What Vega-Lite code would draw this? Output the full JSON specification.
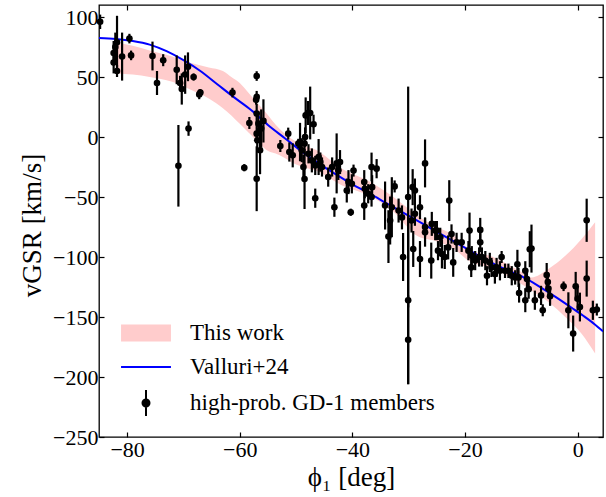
{
  "$schema": "https://vega.github.io/schema/vega-lite/v6.json",
  "autosize": {"type": "none"},
  "padding": {"left": 99, "top": 5, "right": 3, "bottom": 60},
  "width": 504,
  "height": 432,
  "background": "white",
  "config": {
    "view": {"stroke": "black", "strokeWidth": 1.3},
    "axis": {
      "grid": false, "domain": false,
      "tickColor": "black", "tickWidth": 1.2, "tickSize": -5,
      "labelFont": "Liberation Serif", "labelFontSize": 22, "labelColor": "black",
      "titleFont": "Liberation Serif", "titleFontSize": 27, "titleColor": "black", "titleFontWeight": "normal"
    },
    "legend": {
      "labelFont": "Liberation Serif", "labelFontSize": 23, "labelColor": "black", "labelLimit": 0
    }
  },
  "datasets": {
    "band": [
      {"phi": -82, "lo": 53, "hi": 79},
      {"phi": -79, "lo": 52, "hi": 76},
      {"phi": -76, "lo": 50, "hi": 72},
      {"phi": -72, "lo": 46, "hi": 67},
      {"phi": -69, "lo": 40, "hi": 62},
      {"phi": -65.5, "lo": 32, "hi": 58},
      {"phi": -63, "lo": 24, "hi": 55},
      {"phi": -61.5, "lo": 18, "hi": 50},
      {"phi": -60, "lo": 11, "hi": 45},
      {"phi": -58.5, "lo": 4, "hi": 37},
      {"phi": -57, "lo": -3, "hi": 29},
      {"phi": -55.5, "lo": -10, "hi": 21},
      {"phi": -53, "lo": -15, "hi": 7},
      {"phi": -50, "lo": -23, "hi": -4},
      {"phi": -46, "lo": -29, "hi": -12},
      {"phi": -42, "lo": -40, "hi": -26},
      {"phi": -37, "lo": -49, "hi": -37},
      {"phi": -33, "lo": -61, "hi": -49},
      {"phi": -28.3, "lo": -83, "hi": -66},
      {"phi": -25, "lo": -87, "hi": -75},
      {"phi": -22, "lo": -93, "hi": -82},
      {"phi": -19.4, "lo": -103, "hi": -93},
      {"phi": -15, "lo": -110, "hi": -100},
      {"phi": -10.5, "lo": -121, "hi": -111},
      {"phi": -8.2, "lo": -128, "hi": -117},
      {"phi": -5.2, "lo": -137.5, "hi": -110},
      {"phi": -2.2, "lo": -150, "hi": -99},
      {"phi": 0.7, "lo": -164, "hi": -85},
      {"phi": 3.1, "lo": -180.5, "hi": -71}
    ],
    "curve": [
      {"phi": -85, "v": 82.5},
      {"phi": -82, "v": 81.7},
      {"phi": -79, "v": 80},
      {"phi": -76, "v": 77},
      {"phi": -73, "v": 71.5},
      {"phi": -70, "v": 64},
      {"phi": -67, "v": 55},
      {"phi": -64, "v": 44},
      {"phi": -61, "v": 33},
      {"phi": -58, "v": 22.5},
      {"phi": -55, "v": 10},
      {"phi": -52, "v": -1},
      {"phi": -49, "v": -12},
      {"phi": -46, "v": -22},
      {"phi": -43, "v": -31},
      {"phi": -40, "v": -39.5},
      {"phi": -37, "v": -47},
      {"phi": -34, "v": -55},
      {"phi": -31, "v": -63},
      {"phi": -28, "v": -71},
      {"phi": -25, "v": -79},
      {"phi": -22, "v": -87},
      {"phi": -19, "v": -95},
      {"phi": -16, "v": -103},
      {"phi": -13, "v": -110},
      {"phi": -10, "v": -116},
      {"phi": -7, "v": -124},
      {"phi": -4, "v": -133},
      {"phi": -1, "v": -142.5},
      {"phi": 1, "v": -149},
      {"phi": 3, "v": -156},
      {"phi": 4.5, "v": -162}
    ],
    "stars": [
      {"phi": -84.8, "v": 96, "err": 6},
      {"phi": -81.8, "v": 79, "err": 22},
      {"phi": -82.1, "v": 75, "err": 12},
      {"phi": -82.4, "v": 70, "err": 10},
      {"phi": -82.4, "v": 62, "err": 9},
      {"phi": -81.8, "v": 55, "err": 5},
      {"phi": -80.9, "v": 67, "err": 20},
      {"phi": -79.6, "v": 82, "err": 4},
      {"phi": -79.3, "v": 68, "err": 4},
      {"phi": -75.5, "v": 67.5, "err": 12},
      {"phi": -74.7, "v": 45, "err": 10},
      {"phi": -73.6, "v": 64, "err": 5},
      {"phi": -71.2, "v": 56, "err": 12},
      {"phi": -70.9, "v": -24, "err": 34},
      {"phi": -70.6, "v": 45, "err": 6},
      {"phi": -70.3, "v": 40, "err": 13},
      {"phi": -69.7, "v": 52, "err": 16},
      {"phi": -69.2, "v": 58.5, "err": 12},
      {"phi": -69.1, "v": 7, "err": 6},
      {"phi": -68.2, "v": 50, "err": 3},
      {"phi": -67.2, "v": 35.5, "err": 4},
      {"phi": -67.0, "v": 37, "err": 3},
      {"phi": -61.3, "v": 37, "err": 4},
      {"phi": -59.2, "v": -25.6, "err": 3},
      {"phi": -58.3, "v": 11.7, "err": 5},
      {"phi": -57.0, "v": 50.8, "err": 4},
      {"phi": -57.0, "v": 33.4, "err": 5},
      {"phi": -57.1, "v": 31, "err": 4},
      {"phi": -57.0, "v": 19.6, "err": 8},
      {"phi": -56.7, "v": 11.2, "err": 10},
      {"phi": -57.0, "v": 2.8, "err": 8},
      {"phi": -56.9, "v": -2.8, "err": 10},
      {"phi": -57.0, "v": -34.8, "err": 27},
      {"phi": -56.4, "v": -11, "err": 20},
      {"phi": -56.2, "v": 7, "err": 16},
      {"phi": -55.8, "v": 13.4, "err": 18},
      {"phi": -52.8, "v": -7.5, "err": 5},
      {"phi": -51.4, "v": 2.8, "err": 5},
      {"phi": -51.2, "v": -12.5, "err": 8},
      {"phi": -50.6, "v": -15.3, "err": 10},
      {"phi": -49.6, "v": -5.5, "err": 4},
      {"phi": -49.3, "v": -4.2, "err": 16},
      {"phi": -49.0, "v": -11, "err": 10},
      {"phi": -48.7, "v": -25, "err": 10},
      {"phi": -48.5, "v": -35, "err": 25},
      {"phi": -48.3, "v": 18, "err": 15},
      {"phi": -47.9, "v": 20, "err": 10},
      {"phi": -47.5, "v": 20, "err": 22},
      {"phi": -46.9, "v": 10.6, "err": 8},
      {"phi": -48.4, "v": 0, "err": 8},
      {"phi": -48.5, "v": -5.5, "err": 8},
      {"phi": -47.8, "v": -14, "err": 8},
      {"phi": -47.2, "v": -19.5, "err": 10},
      {"phi": -46.6, "v": -23.7, "err": 8},
      {"phi": -46.0, "v": -16.7, "err": 15},
      {"phi": -45.7, "v": -20.9, "err": 8},
      {"phi": -45.4, "v": -25, "err": 8},
      {"phi": -46.6, "v": -51, "err": 8},
      {"phi": -43.2, "v": -58.5, "err": 8},
      {"phi": -42.2, "v": -20.9, "err": 10},
      {"phi": -42.8, "v": -22, "err": 25},
      {"phi": -44.3, "v": -33.4, "err": 8},
      {"phi": -42.5, "v": -27.8, "err": 8},
      {"phi": -43.6, "v": -25, "err": 8},
      {"phi": -39.8, "v": -28, "err": 5},
      {"phi": -40.7, "v": -37.6, "err": 10},
      {"phi": -41.0, "v": -44.6, "err": 10},
      {"phi": -40.1, "v": -39, "err": 8},
      {"phi": -40.3, "v": -62.7, "err": 3},
      {"phi": -37.9, "v": -37.6, "err": 10},
      {"phi": -37.8, "v": -43.1, "err": 8},
      {"phi": -37.9, "v": -57.1, "err": 12},
      {"phi": -36.6, "v": -25, "err": 12},
      {"phi": -35.7, "v": -26.4, "err": 8},
      {"phi": -36.5, "v": -41.8, "err": 10},
      {"phi": -36.6, "v": -50, "err": 8},
      {"phi": -37.2, "v": -47.3, "err": 8},
      {"phi": -32.5, "v": -41.2, "err": 5},
      {"phi": -34.2, "v": -57.1, "err": 20},
      {"phi": -33.0, "v": -58.5, "err": 25},
      {"phi": -33.3, "v": -69.6, "err": 20},
      {"phi": -33.6, "v": -83, "err": 22},
      {"phi": -31.2, "v": -67, "err": 10},
      {"phi": -31.0, "v": -100, "err": 20},
      {"phi": -31.8, "v": -61.3, "err": 10},
      {"phi": -30.1, "v": -50, "err": 92},
      {"phi": -30.1, "v": -136, "err": 70},
      {"phi": -30.1, "v": -169, "err": 37},
      {"phi": -27.1, "v": -22, "err": 20},
      {"phi": -29.3, "v": -41.8, "err": 15},
      {"phi": -28.9, "v": -44.6, "err": 10},
      {"phi": -28.0, "v": -58.5, "err": 10},
      {"phi": -28.9, "v": -64, "err": 10},
      {"phi": -27.1, "v": -79.4, "err": 12},
      {"phi": -29.5, "v": -69.6, "err": 10},
      {"phi": -29.2, "v": -93.3, "err": 15},
      {"phi": -28.0, "v": -101.7, "err": 15},
      {"phi": -26.0, "v": -103, "err": 15},
      {"phi": -25.9, "v": -72.4, "err": 10},
      {"phi": -25.3, "v": -78, "err": 8},
      {"phi": -24.4, "v": -83.6, "err": 8},
      {"phi": -24.1, "v": -97.5, "err": 12},
      {"phi": -22.8, "v": -53, "err": 17},
      {"phi": -23.0, "v": -92, "err": 10},
      {"phi": -27.1, "v": -75, "err": 8},
      {"phi": -25.0, "v": -78, "err": 8},
      {"phi": -23.6, "v": -100, "err": 10},
      {"phi": -24.8, "v": -94.7, "err": 8},
      {"phi": -22.1, "v": -104.5, "err": 12},
      {"phi": -22.4, "v": -80.8, "err": 8},
      {"phi": -21.5, "v": -87.8, "err": 8},
      {"phi": -20.6, "v": -87.8, "err": 8},
      {"phi": -19.2, "v": -78, "err": 15},
      {"phi": -19.4, "v": -94.7, "err": 8},
      {"phi": -18.8, "v": -98.9, "err": 8},
      {"phi": -18.9, "v": -108.7, "err": 8},
      {"phi": -17.3, "v": -77.4, "err": 10},
      {"phi": -17.3, "v": -87.8, "err": 8},
      {"phi": -17.5, "v": -100, "err": 8},
      {"phi": -18.2, "v": -103, "err": 8},
      {"phi": -17.0, "v": -100, "err": 8},
      {"phi": -16.4, "v": -103, "err": 8},
      {"phi": -16.1, "v": -115.6, "err": 8},
      {"phi": -15.6, "v": -104.5, "err": 8},
      {"phi": -15.3, "v": -108.7, "err": 8},
      {"phi": -14.4, "v": -108.7, "err": 8},
      {"phi": -14.7, "v": -114.2, "err": 8},
      {"phi": -13.5, "v": -100, "err": 5},
      {"phi": -13.8, "v": -111.5, "err": 8},
      {"phi": -12.9, "v": -111.5, "err": 6},
      {"phi": -12.3, "v": -111.5, "err": 6},
      {"phi": -11.7, "v": -115.6, "err": 8},
      {"phi": -11.1, "v": -117, "err": 6},
      {"phi": -10.7, "v": -106, "err": 12},
      {"phi": -10.5, "v": -117, "err": 8},
      {"phi": -9.3, "v": -111.5, "err": 8},
      {"phi": -9.0, "v": -118.4, "err": 8},
      {"phi": -8.5, "v": -93.5, "err": 15},
      {"phi": -8.2, "v": -93, "err": 20},
      {"phi": -10.4, "v": -130, "err": 8},
      {"phi": -9.3, "v": -136, "err": 10},
      {"phi": -8.7, "v": -126.8, "err": 8},
      {"phi": -7.6, "v": -136, "err": 8},
      {"phi": -6.5, "v": -132, "err": 8},
      {"phi": -6.2, "v": -144.4, "err": 5},
      {"phi": -5.5, "v": -115, "err": 10},
      {"phi": -5.3, "v": -120.8, "err": 8},
      {"phi": -5.2, "v": -126.3, "err": 8},
      {"phi": -4.9, "v": -132.7, "err": 8},
      {"phi": -2.5, "v": -124.4, "err": 4},
      {"phi": -1.65, "v": -144.4, "err": 15},
      {"phi": -0.35, "v": -124.4, "err": 12},
      {"phi": 0.0, "v": -134.7, "err": 10},
      {"phi": 0.4, "v": -141.7, "err": 12},
      {"phi": 1.6, "v": -69.4, "err": 18},
      {"phi": 1.6, "v": -118, "err": 15},
      {"phi": -0.8, "v": -163.8, "err": 15},
      {"phi": 2.7, "v": -144.4, "err": 8},
      {"phi": 3.4, "v": -143.8, "err": 5}
    ]
  },
  "resolve": {"axis": {"x": "independent", "y": "independent"}},
  "layer": [
    {
      "data": {"name": "band"},
      "mark": {"type": "area", "color": "#ffcccc", "clip": true, "interpolate": "monotone"},
      "encoding": {
        "x": {"field": "phi", "type": "quantitative", "scale": {"domain": [-85, 4.5], "nice": false, "zero": false},
              "axis": {"orient": "bottom", "values": [-80, -60, -40, -20, 0], "title": "ϕ₁ [deg]", "labelPadding": 7, "titlePadding": 4}},
        "y": {"field": "lo", "type": "quantitative", "scale": {"domain": [-250, 110], "nice": false, "zero": false},
              "axis": {"orient": "left", "values": [-250, -200, -150, -100, -50, 0, 50, 100], "title": "vGSR [km/s]", "labelPadding": 6, "titlePadding": 6, "titleY": 220}},
        "y2": {"field": "hi"}
      }
    },
    {
      "data": {"name": "curve"},
      "mark": {"type": "line", "color": "#0000ff", "strokeWidth": 2, "clip": true, "interpolate": "monotone"},
      "encoding": {
        "x": {"field": "phi", "type": "quantitative", "axis": {"orient": "top", "values": [-80, -60, -40, -20, 0], "labels": false, "title": null}},
        "y": {"field": "v", "type": "quantitative", "axis": {"orient": "right", "values": [-250, -200, -150, -100, -50, 0, 50, 100], "labels": false, "title": null}}
      }
    },
    {
      "data": {"name": "stars"},
      "mark": {"type": "errorbar", "color": "black", "thickness": 2.2},
      "encoding": {
        "x": {"field": "phi", "type": "quantitative", "axis": null},
        "y": {"field": "v", "type": "quantitative", "axis": null},
        "yError": {"field": "err"}
      }
    },
    {
      "data": {"name": "stars"},
      "mark": {"type": "point", "filled": true, "color": "black", "size": 44, "opacity": 1},
      "encoding": {
        "x": {"field": "phi", "type": "quantitative", "axis": null},
        "y": {"field": "v", "type": "quantitative", "axis": null}
      }
    },
    {
      "data": {"name": "stars"},
      "transform": [{"filter": "datum.phi < -84"}],
      "mark": {"type": "point", "filled": true, "opacity": 0},
      "encoding": {
        "x": {"field": "phi", "type": "quantitative", "axis": null},
        "y": {"field": "v", "type": "quantitative", "axis": null},
        "color": {"datum": "high-prob. GD-1 members", "type": "nominal",
          "scale": {"domain": ["This work", "Valluri+24", "high-prob. GD-1 members"], "range": ["#ffcccc", "#0000ff", "#000000"]},
          "legend": {
            "orient": "bottom-left", "offset": 17, "padding": 0, "title": null,
            "symbolSize": 676, "symbolOffset": 16, "labelOffset": 30, "rowPadding": 7, "symbolStrokeWidth": 2,
            "symbolType": "circle",
            "encode": {"symbols": {"update": {
              "shape": {"signal": "datum.value === 'This work' ? 'M-1.92,-0.66H1.92V0.66H-1.92Z' : datum.value === 'Valluri+24' ? 'M-1.92,0H1.92' : 'M0,-1V1M0.27,0A0.27,0.27,0,1,1,-0.27,0A0.27,0.27,0,1,1,0.27,0Z'"},
              "fill": {"signal": "datum.value === 'Valluri+24' ? 'transparent' : scale('color', datum.value)"},
              "stroke": {"signal": "datum.value === 'This work' ? 'transparent' : scale('color', datum.value)"},
              "strokeWidth": {"value": 2},
              "opacity": {"value": 1},
              "fillOpacity": {"value": 1},
              "strokeOpacity": {"value": 1}
            }}}
          }
        }
      }
    }
  ]
}
